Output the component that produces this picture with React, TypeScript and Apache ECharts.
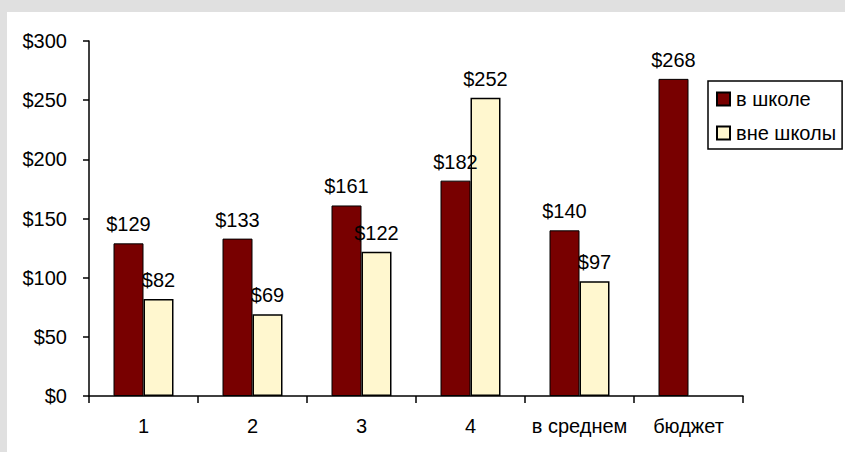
import React, { useEffect, useRef } from "react";
import * as echarts from "echarts";

const categories = ["1", "2", "3", "4", "в среднем", "бюджет"];
const inSchool = [129, 133, 161, 182, 140, 268];
const outSchool: (number | string)[] = [82, 69, 122, 252, 97, "-"];
const seriesNames = ["в школе", "вне школы"];

const FONT = "'Liberation Sans', Arial, sans-serif";

export default function App() {
  const ref = useRef<HTMLDivElement>(null);
  useEffect(() => {
    document.body.style.margin = "0";
    const chart = echarts.init(ref.current!, null, { renderer: "svg" });
    const label = {
      show: true,
      position: "top" as const,
      distance: 9,
      color: "#000",
      fontSize: 20,
      fontFamily: FONT,
      formatter: (p: any) => "$" + p.value,
    };
    chart.setOption({
      animation: false,
      backgroundColor: "#ffffff",
      textStyle: { fontFamily: FONT },
      grid: { left: 82, top: 29, right: 102, bottom: 56, containLabel: false },
      legend: {
        orient: "vertical",
        left: 701,
        top: 69,
        width: 135,
        borderColor: "#000",
        borderWidth: 1.5,
        padding: [8, 6, 6, 8],
        itemWidth: 13,
        itemHeight: 13,
        itemGap: 14,
        icon: "rect",
        textStyle: { fontSize: 20, color: "#000", fontFamily: FONT, padding: [0, 0, 0, 1] },
        data: seriesNames,
      },
      xAxis: {
        type: "category",
        data: categories,
        axisLine: { lineStyle: { color: "#000", width: 1.5 } },
        axisTick: { show: true, length: 7, lineStyle: { color: "#000", width: 1.5 } },
        axisLabel: { color: "#000", fontSize: 20, fontFamily: FONT, margin: 20, interval: 0 },
      },
      yAxis: {
        type: "value",
        min: 0,
        max: 300,
        interval: 50,
        splitLine: { show: false },
        axisLine: { show: true, lineStyle: { color: "#000", width: 1.5 } },
        axisTick: { show: true, length: 6, lineStyle: { color: "#000", width: 1.5 } },
        axisLabel: {
          color: "#000",
          fontSize: 20,
          fontFamily: FONT,
          margin: 22,
          formatter: (v: number) => "$" + v,
        },
      },
      series: [
        {
          name: seriesNames[0],
          type: "bar",
          data: inSchool,
          barWidth: 30,
          barGap: "0%",
          itemStyle: { color: "#780000", borderColor: "#000", borderWidth: 1 },
          label,
        },
        {
          name: seriesNames[1],
          type: "bar",
          data: outSchool,
          barWidth: 30,
          barGap: "0%",
          itemStyle: { color: "#fff7cf", borderColor: "#000", borderWidth: 1.5 },
          label,
        },
      ],
    });
    return () => chart.dispose();
  }, []);
  return (
    <div style={{ width: 845, height: 452, background: "#e0e0e0", position: "relative" }}>
      <div
        ref={ref}
        style={{ position: "absolute", left: 7, top: 12, width: 838, height: 440 }}
      />
    </div>
  );
}
